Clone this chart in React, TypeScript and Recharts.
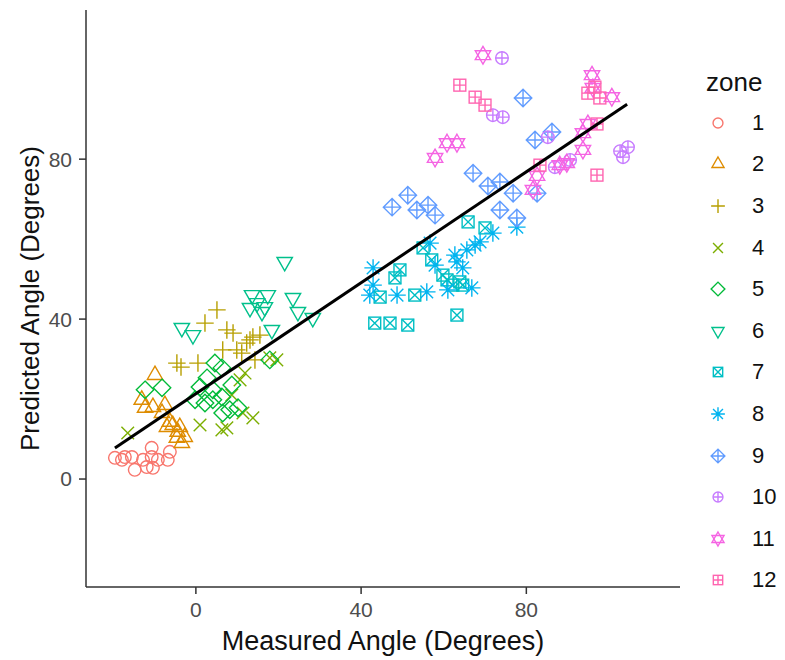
import React from 'react';
import { ScatterChart, Scatter, XAxis, YAxis } from 'recharts';

const zoneNames = ['1', '2', '3', '4', '5', '6', '7', '8', '9', '10', '11', '12'];
const zoneColors = ['#F8766D', '#DE8C00', '#B79F00', '#7CAE00', '#00BA38', '#00C08B', '#00BFC4', '#00B4F0', '#619CFF', '#C77CFF', '#F564E3', '#FF64B0'];

const zone1: [number, number][] = [[-19.6, 5.3], [-17.9, 4.8], [-17.2, 5.5], [-15.5, 5.5], [-14.8, 2.3], [-12.8, 4.8], [-11.9, 3], [-10.7, 7.8], [-10.7, 5.5], [-10.4, 2.8], [-9.2, 4.8], [-6.8, 4.8], [-6.3, 6.8]];
const zone2: [number, number][] = [[-9.9, 26], [-13.1, 19.8], [-12.3, 17.8], [-10.4, 18], [-7.5, 18.5], [-8.2, 16.5], [-6.3, 14.3], [-5.6, 13.5], [-3.9, 13], [-4.4, 11.8], [-2.7, 10.5], [-3.4, 9], [-4.6, 10.3], [-7.0, 13]];
const zone3: [number, number][] = [[5.1, 42.3], [2.2, 39], [7.5, 37.3], [9.0, 36.5], [13.8, 35.5], [15.5, 36], [13.1, 34.8], [6.5, 32.3], [9.9, 32.3], [11.1, 31.5], [-4.6, 29], [-3.6, 28], [0.5, 29], [14.3, 29.8], [12.3, 34]];
const zone4: [number, number][] = [[-16.5, 11.5], [1.0, 13.5], [6.3, 12.3], [7.5, 12.8], [13.8, 15.3], [11.4, 16.5], [19.6, 29.8], [17.9, 30.3], [10.7, 24.8], [11.9, 26.5], [8.7, 21]];
const zone5: [number, number][] = [[-12.3, 22.3], [-8.2, 22.8], [1.0, 23], [2.7, 25.3], [4.6, 29], [6.3, 27.8], [-0.2, 19.8], [2.2, 19], [4.1, 19.8], [6.3, 20.5], [8.2, 17.3], [10.2, 17.8], [6.5, 16.5], [17.9, 29.8], [4.1, 22.3], [8.7, 23.5]];
const zone6: [number, number][] = [[21.5, 54.3], [13.6, 46], [17.4, 46], [13.1, 42.8], [14.8, 44], [16.7, 43], [16.0, 41.8], [18.4, 37.3], [23.5, 45.3], [24.7, 41.8], [28.3, 40.3], [-3.4, 37.8], [-0.7, 36]];
const zone7: [number, number][] = [[65.9, 64.3], [70.0, 62.8], [55.0, 57.8], [57.1, 54.8], [49.4, 52.3], [48.2, 50.3], [59.8, 51], [60.8, 49.8], [63.9, 49.3], [64.6, 48.5], [62.2, 48.5], [53.0, 46], [44.6, 45.5], [63.2, 41], [43.3, 39], [47.0, 39], [51.3, 38.5]];
const zone8: [number, number][] = [[42.9, 52.8], [42.9, 48.5], [42.1, 46], [48.7, 46], [55.9, 46.8], [56.7, 59], [57.9, 53.5], [62.7, 56], [65.6, 57.3], [67.6, 58.5], [68.8, 59.3], [71.9, 61.5], [77.7, 63], [64.6, 52.8], [66.8, 47.8], [61.0, 47.3], [63.2, 54.3]];
const zone9: [number, number][] = [[47.5, 68], [51.3, 71], [53.5, 67.3], [56.2, 68.5], [57.9, 66], [67.1, 76.5], [70.7, 73.3], [73.6, 74.3], [76.8, 71.5], [73.6, 67.3], [77.7, 65.3], [79.2, 95.3], [82.1, 84.8], [86.2, 86.8], [82.6, 71.5]];
const zone10: [number, number][] = [[74.1, 105.3], [71.9, 91], [74.3, 90.5], [85.2, 85.5], [86.9, 78], [90.6, 79.8], [102.7, 82], [104.6, 83], [103.4, 80.5]];
const zone11: [number, number][] = [[69.5, 106], [95.9, 101], [96.1, 97.8], [100.7, 95.5], [94.9, 88.8], [93.7, 86.5], [93.7, 82.3], [89.8, 79], [88.1, 78.5], [82.6, 75.8], [81.6, 72.3], [60.8, 84], [63.2, 84], [57.9, 80.3]];
const zone12: [number, number][] = [[63.9, 98.5], [67.6, 95.5], [70.0, 93.5], [94.9, 96.5], [96.6, 98], [97.8, 95.3], [97.1, 88.8], [83.3, 78.5], [97.1, 76]];

const zones = [zone1, zone2, zone3, zone4, zone5, zone6, zone7, zone8, zone9, zone10, zone11, zone12];

const fitX = [-19.6, 104.4];
const fitY = [7.75, 93.75];

const xTicks = [0, 40, 80];
const yTicks = [0, 40, 80];

const FONT = '"Liberation Sans", Arial, sans-serif';

function Sym({ k, cx, cy, c, r = 7 }: { k: number; cx: number; cy: number; c: string; r?: number }) {
  const sw = 1.4;
  const common = { fill: 'none', stroke: c, strokeWidth: sw };
  const triUp = () => {
    const s = r * 2.2;
    const h = s * 0.866;
    return `${cx},${cy - (2 * h) / 3} ${cx + s / 2},${cy + h / 3} ${cx - s / 2},${cy + h / 3}`;
  };
  const triDown = () => {
    const s = r * 2.2;
    const h = s * 0.866;
    return `${cx},${cy + (2 * h) / 3} ${cx + s / 2},${cy - h / 3} ${cx - s / 2},${cy - h / 3}`;
  };
  const plus = (a: number) => `M${cx - a},${cy}L${cx + a},${cy}M${cx},${cy - a}L${cx},${cy + a}`;
  const cross = (a: number) => `M${cx - a},${cy - a}L${cx + a},${cy + a}M${cx - a},${cy + a}L${cx + a},${cy - a}`;
  const diamond = (a: number) => `M${cx},${cy - a}L${cx + a},${cy}L${cx},${cy + a}L${cx - a},${cy}Z`;
  const sq = r * 0.85;
  switch (k) {
    case 0:
      return <circle cx={cx} cy={cy} r={r * 0.9} {...common} />;
    case 1:
      return <polygon points={triUp()} {...common} />;
    case 2:
      return <path d={plus(r * 1.25)} {...common} />;
    case 3:
      return <path d={cross(r * 0.9)} {...common} />;
    case 4:
      return <path d={diamond(r * 1.25)} {...common} />;
    case 5:
      return <polygon points={triDown()} {...common} />;
    case 6:
      return (
        <g>
          <rect x={cx - sq} y={cy - sq} width={sq * 2} height={sq * 2} {...common} />
          <path d={cross(sq)} {...common} />
        </g>
      );
    case 7:
      return <path d={plus(r * 1.25) + cross(r * 0.9)} {...common} />;
    case 8:
      return <path d={diamond(r * 1.25) + plus(r * 1.25)} {...common} />;
    case 9:
      return (
        <g>
          <circle cx={cx} cy={cy} r={r * 0.9} {...common} />
          <path d={plus(r * 0.9)} {...common} />
        </g>
      );
    case 10:
      return (
        <g>
          <polygon points={triUp()} {...common} />
          <polygon points={triDown()} {...common} />
        </g>
      );
    default:
      return (
        <g>
          <rect x={cx - sq} y={cy - sq} width={sq * 2} height={sq * 2} {...common} />
          <path d={plus(sq)} {...common} />
        </g>
      );
  }
}

const NoShape = () => <g />;

export default function App() {
  const zoneData = zones.map((pts) => pts.map(([x, y]) => ({ x, y })));
  const fitData = fitX.map((x, i) => ({ x, y: fitY[i] }));
  return (
    <div style={{ position: 'absolute', left: 0, top: 0, width: 785, height: 660, background: '#fff' }}>
      <ScatterChart width={785} height={660} margin={{ top: 10, right: 105, bottom: 0, left: 0 }}>
        <XAxis
          dataKey="x"
          type="number"
          domain={[-26.6, 117.2]}
          ticks={xTicks}
          allowDataOverflow
          height={73}
          tickSize={7}
          tickMargin={8}
          stroke="#333"
          strokeWidth={1.5}
          tick={{ fill: '#4D4D4D', fontSize: 21, fontFamily: FONT }}
          label={{ value: 'Measured Angle (Degrees)', position: 'insideBottom', offset: 10, fill: '#111', fontSize: 27, fontFamily: FONT }}
        />
        <YAxis
          dataKey="y"
          type="number"
          domain={[-27, 117.3]}
          ticks={yTicks}
          allowDataOverflow
          width={86}
          tickSize={7}
          tickMargin={7}
          stroke="#333"
          strokeWidth={1.5}
          tick={{ fill: '#4D4D4D', fontSize: 21, fontFamily: FONT }}
          label={{ value: 'Predicted Angle (Degrees)', angle: -90, position: 'insideLeft', offset: 30, fill: '#111', fontSize: 26, fontFamily: FONT, style: { textAnchor: 'middle' } }}
        />
        {zoneData.map((d, i) => (
          <Scatter
            key={zoneNames[i]}
            name={zoneNames[i]}
            data={d}
            isAnimationActive={false}
            shape={(p: any) => <Sym k={i} cx={p.cx} cy={p.cy} c={zoneColors[i]} />}
          />
        ))}
        <Scatter data={fitData} isAnimationActive={false} line={{ stroke: '#000', strokeWidth: 3 }} shape={NoShape} />
      </ScatterChart>
      <div style={{ position: 'absolute', left: 690, top: 62, fontFamily: FONT }}>
        <div style={{ fontSize: 26, color: '#111', height: 40, lineHeight: '40px', marginLeft: 16 }}>zone</div>
        {zoneNames.map((n, i) => (
          <div key={n} style={{ display: 'flex', alignItems: 'center', height: 41.6 }}>
            <svg width={56} height={30}>
              <Sym k={i} cx={28} cy={15} c={zoneColors[i]} r={5.5} />
            </svg>
            <span style={{ fontSize: 22, color: '#111', marginLeft: 6 }}>{n}</span>
          </div>
        ))}
      </div>
    </div>
  );
}
